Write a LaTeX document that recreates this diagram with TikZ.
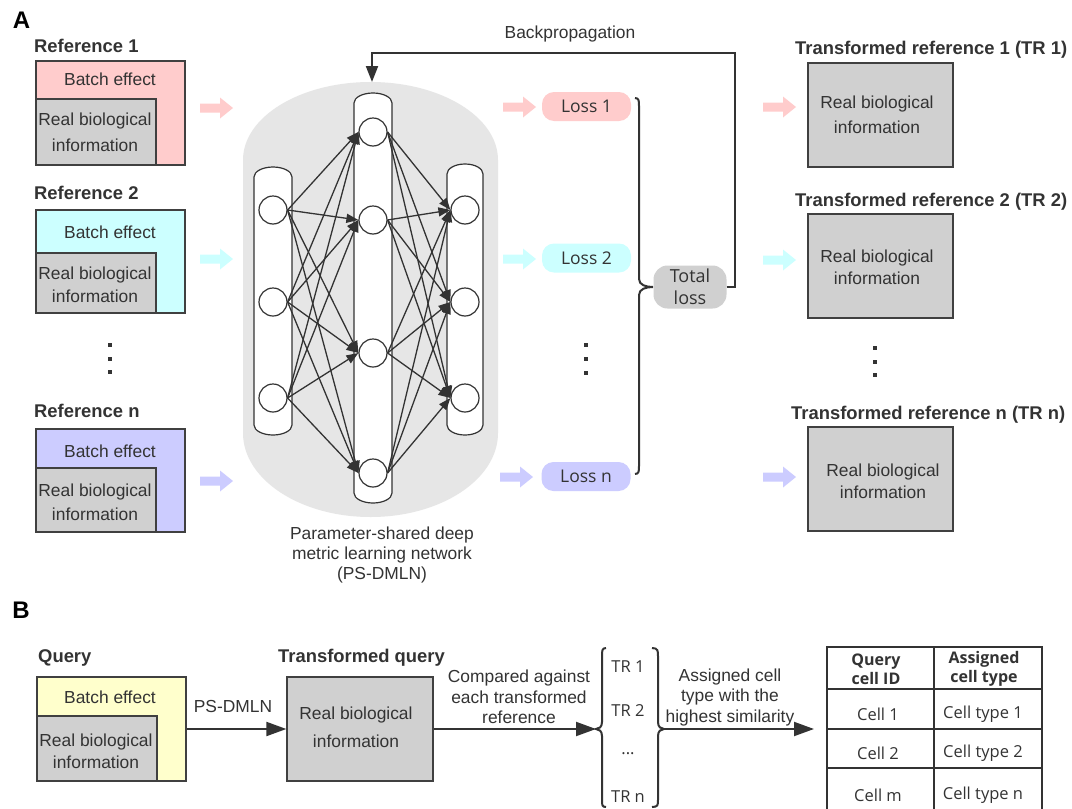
\documentclass[tikz,border=0pt]{standalone}
\usepackage{fontspec}
\setmainfont{Liberation Sans}
\newfontfamily\segfont{Open Sans}
\usetikzlibrary{arrows.meta}
\definecolor{pinkc}{HTML}{FFCCCC}
\definecolor{cyanc}{HTML}{CCFFFF}
\definecolor{lavc}{HTML}{CCCCFF}
\definecolor{yelc}{HTML}{FFFFCC}
\definecolor{grayc}{HTML}{D0D0D0}
\definecolor{bggray}{HTML}{E6E6E6}
\definecolor{ink}{HTML}{333333}
\definecolor{edgec}{HTML}{404040}
\tikzset{
  txt/.style={font=\fontsize{17.4}{24}\selectfont, text=ink, inner sep=0, align=center},
  bio/.style={txt, font=\fontsize{17.4}{#1}\selectfont},
  hd/.style={font=\fontsize{18.4}{22}\selectfont\bfseries, text=ink, inner sep=0, anchor=base west},
  obox/.style={draw=edgec, line width=1.3, inner sep=0},
  lossbox/.style={rounded corners=12, minimum width=89, minimum height=29, inner sep=0, font=\segfont\fontsize{17.5}{20}\selectfont, text=ink},
  segtxt/.style={font=\segfont\fontsize{16.5}{20}\selectfont, text=ink, inner sep=0, align=center},
  seghd/.style={font=\segfont\fontsize{16}{19}\selectfont\bfseries, text=ink, inner sep=0, align=center},
  neuron/.style={circle, draw=ink, fill=white, minimum size=28, inner sep=0, line width=1.2},
  colm/.style={draw=ink, fill=white, line width=1.2},
  nn/.style={draw=ink, line width=1.3, -{Triangle[length=12pt,width=9pt]}},
  bigarrow/.style={draw=ink, line width=2, -{Triangle[length=20pt,width=14pt]}},
  bparrow/.style={draw=ink, line width=2, -{Triangle[length=16pt,width=12pt]}},
  bracepath/.style={draw=ink, line width=2},
  tbl/.style={draw=ink, line width=2},
  dotsq/.style={fill=ink},
  fatarrow/.pic={\fill[#1] (0,-4.5) -- (20,-4.5) -- (20,-10.5) -- (33,0) -- (20,10.5) -- (20,4.5) -- (0,4.5) -- cycle;}
}
\begin{document}
\begin{tikzpicture}[x=1pt,y=-1pt]
\useasboundingbox (0,0) rectangle (1072,809);
\fill[white] (0,0) rectangle (1072,809);

% panel labels
\node[font=\fontsize{24}{24}\selectfont\bfseries, inner sep=0] (labA) at (21.5,20.5) {A};
\node[font=\fontsize{24}{24}\selectfont\bfseries, inner sep=0] (labB) at (21,610) {B};

% ---------- references ----------
\node[hd] (h1) at (34,52.5) {Reference 1};
\node[obox, fill=pinkc, minimum width=149, minimum height=104] (ref1) at (110.5,113) {};
\node[obox, fill=grayc, minimum width=120, minimum height=66] (in1) at (96,132) {};
\node[txt] (be1) at (110,79) {Batch effect};
\node[bio=26] (rb1) at (95,132) {Real biological\\information};

\node[hd] (h2) at (34,199.5) {Reference 2};
\node[obox, fill=cyanc, minimum width=149, minimum height=103] (ref2) at (110.5,261.5) {};
\node[obox, fill=grayc, minimum width=120, minimum height=60] (in2) at (96,283) {};
\node[txt] (be2) at (110,232) {Batch effect};
\node[bio=23] (rb2) at (95,284.5) {Real biological\\information};

\foreach \yy in {345,358.5,372} \fill[dotsq] (108,\yy-2) rectangle (112,\yy+2);

\node[hd] (hn) at (34,417.5) {Reference n};
\node[obox, fill=lavc, minimum width=149, minimum height=103] (refn) at (110.5,480.5) {};
\node[obox, fill=grayc, minimum width=120, minimum height=64] (inn) at (96,500) {};
\node[txt] (ben) at (110,451) {Batch effect};
\node[bio=24] (rbn) at (95,502) {Real biological\\information};

% fat arrows
\pic at (200,108) {fatarrow=pinkc};
\pic at (200,259) {fatarrow=cyanc};
\pic at (200,481) {fatarrow=lavc};
\pic at (503,107) {fatarrow=pinkc};
\pic at (503,259) {fatarrow=cyanc};
\pic at (500,477) {fatarrow=lavc};
\pic at (763,107) {fatarrow=pinkc};
\pic at (763,260) {fatarrow=cyanc};
\pic at (763,477) {fatarrow=lavc};

% ---------- network ----------
\fill[bggray] (243,160) arc[start angle=180,end angle=360,x radius=127.5,y radius=78]
  -- (498,433) arc[start angle=0,end angle=180,x radius=127.5,y radius=84] -- cycle;
\draw[colm] (254,177) arc[start angle=180,end angle=360,x radius=19,y radius=10]
  -- (292,425) arc[start angle=0,end angle=180,x radius=19,y radius=10] -- cycle;
\draw[colm] (354,103) arc[start angle=180,end angle=360,x radius=19,y radius=10]
  -- (392,493) arc[start angle=0,end angle=180,x radius=19,y radius=10] -- cycle;
\draw[colm] (447,174) arc[start angle=180,end angle=360,x radius=18,y radius=10]
  -- (483,425) arc[start angle=0,end angle=180,x radius=18,y radius=10] -- cycle;

\node[neuron] (l1) at (273,210) {};
\node[neuron] (l2) at (273,302) {};
\node[neuron] (l3) at (273,398) {};
\node[neuron] (m1) at (373,132) {};
\node[neuron] (m2) at (373,220) {};
\node[neuron] (m3) at (373,353) {};
\node[neuron] (m4) at (373,473) {};
\node[neuron] (r1) at (465,210) {};
\node[neuron] (r2) at (465,302) {};
\node[neuron] (r3) at (465,398) {};
\foreach \i in {1,2,3} {
  \foreach \j in {1,2,3,4} {
    \draw[nn] (l\i.east) -- (m\j.west);
    \draw[nn] (m\j.east) -- (r\i.west);
  }
}
\node[txt, font=\fontsize{17.4}{20}\selectfont] (cap) at (382,555) {Parameter-shared deep\\metric learning network\\(PS-DMLN)};

% ---------- losses ----------
\node[lossbox, fill=pinkc] (loss1) at (586.5,106.5) {Loss 1};
\node[lossbox, fill=cyanc] (loss2) at (586.5,258) {Loss 2};
\node[lossbox, fill=lavc] (lossn) at (586,476.5) {Loss n};
\foreach \yy in {345,359,373} \fill[dotsq] (584,\yy-2) rectangle (588,\yy+2);

\draw[bracepath] (635,98) .. controls (639,98) and (639,101) .. (639,106) -- (639,279)
  .. controls (639,285) and (646,287) .. (653,287)
  .. controls (646,287) and (639,289) .. (639,295) -- (639,466)
  .. controls (639,471) and (639,474) .. (635,474);

\node[lossbox, fill=grayc, minimum width=73, minimum height=43, rounded corners=14, align=center, font=\segfont\fontsize{18}{22}\selectfont] (total) at (690,287) {Total\\loss};

\coordinate (bpA) at (735,287);
\coordinate (bpB) at (735,53);
\coordinate (bpC) at (372,53);
\coordinate (bptip) at (372,82);
\draw[bparrow] (total.east) -- (bpA) -- (bpB) -- (bpC) -- (bptip);
\node[txt] (bplbl) at (570,34) {Backpropagation};

% ---------- transformed references ----------
\node[hd] (th1) at (795,54.5) {Transformed reference 1 (TR 1)};
\node[obox, fill=grayc, minimum width=145, minimum height=104] (tr1) at (880.5,115) {};
\node[bio=25] (tt1) at (877,114.5) {Real biological\\information};

\node[hd] (th2) at (795,206.5) {Transformed reference 2 (TR 2)};
\node[obox, fill=grayc, minimum width=145, minimum height=104] (tr2) at (880.5,266) {};
\node[bio=22] (tt2) at (877,267) {Real biological\\information};

\foreach \yy in {348,361.5,375} \fill[dotsq] (873,\yy-2) rectangle (877,\yy+2);

\node[hd] (thn) at (791,419.5) {Transformed reference n (TR n)};
\node[obox, fill=grayc, minimum width=145, minimum height=104] (trn) at (880.5,479) {};
\node[bio=22] (ttn) at (883,481) {Real biological\\information};

% ---------- panel B ----------
\node[hd] (qh) at (38,662) {Query};
\node[obox, fill=yelc, minimum width=149, minimum height=104] (q) at (111.5,729) {};
\node[obox, fill=grayc, minimum width=120, minimum height=65] (qin) at (97,748.5) {};
\node[txt] (qbe) at (110,697) {Batch effect};
\node[bio=22] (qrb) at (96,751) {Real biological\\information};

\node[hd] (tqh) at (278,662) {Transformed query};
\node[obox, fill=grayc, minimum width=146, minimum height=104] (tq) at (360,729) {};
\node[bio=28] (tqt) at (356,727) {Real biological\\information};

\draw[bigarrow] (q.east) -- (tq.west);
\node[txt] (psd) at (233,707) {PS-DMLN};

\coordinate (lb) at (596,729);
\coordinate (rb) at (664,729);
\coordinate (tabin) at (814,729);
\draw[bigarrow] (tq.east) -- (lb);
\node[txt, font=\fontsize{17.4}{20.5}\selectfont] (cmp) at (519,697) {Compared against\\each transformed\\reference};

\draw[bracepath] (606,648) .. controls (602,648) and (602,651) .. (602,656) -- (602,722)
  .. controls (602,727) and (599,729) .. (lb)
  .. controls (599,729) and (602,731) .. (602,736) -- (602,800)
  .. controls (602,805) and (602,807) .. (606,807);
\draw[bracepath] (652,648) .. controls (658,648) and (658,651) .. (658,656) -- (658,722)
  .. controls (658,727) and (661,729) .. (rb)
  .. controls (661,729) and (658,731) .. (658,736) -- (658,800)
  .. controls (658,805) and (658,807) .. (652,807);

\node[segtxt] (trb1) at (628,667) {TR 1};
\node[segtxt] (trb2) at (628,711) {TR 2};
\node[segtxt] (trb3) at (628,754) {...};
\node[segtxt] (trbn) at (628,797) {TR n};

\draw[bigarrow] (rb) -- (tabin);
\node[txt, font=\fontsize{17.4}{20.5}\selectfont] (asg) at (730,697) {Assigned cell\\type with the\\highest similarity};

% table
\draw[tbl] (827,647) -- (1042,647);
\draw[tbl] (827,689) -- (1042,689);
\draw[tbl] (827,729) -- (1042,729);
\draw[tbl] (827,768) -- (1042,768);
\draw[tbl] (827,646) -- (827,809);
\draw[tbl] (934,646) -- (934,809);
\draw[tbl] (1042,646) -- (1042,809);
\node[seghd] (c1h) at (876,669) {Query\\cell ID};
\node[seghd] (c2h) at (984,669) {Assigned\\cell type};
\node[segtxt] (c11) at (878,714) {Cell 1};
\node[segtxt] (c12) at (983,714) {Cell type 1};
\node[segtxt] (c21) at (878,753) {Cell 2};
\node[segtxt] (c22) at (983,753) {Cell type 2};
\node[segtxt] (c31) at (878,795) {Cell m};
\node[segtxt] (c32) at (983,795) {Cell type n};
\end{tikzpicture}
\end{document}
